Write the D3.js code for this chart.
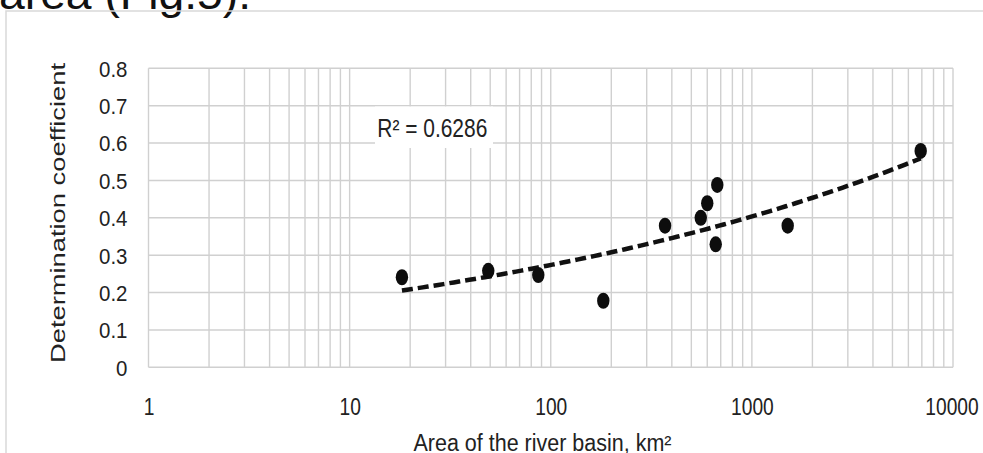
<!DOCTYPE html>
<html>
<head>
<meta charset="utf-8">
<script src="https://cdn.jsdelivr.net/npm/d3@7/dist/d3.min.js"></script>
<style>
  html, body { margin: 0; padding: 0; background: #fff; }
  svg { display: block; }
</style>
</head>
<body>
<svg id="chart" width="983" height="453"></svg>
<script>
// ---- data ----
const basinAreas = [18.2, 48.9, 86.7, 182.5, 370, 557, 600, 673, 661, 1507, 6908];
const determinationCoeffs = [0.241, 0.258, 0.247, 0.178, 0.379, 0.400, 0.439, 0.488, 0.329, 0.379, 0.579];
const xTickValues = [1, 10, 100, 1000, 10000];
const xTickLabels = ["1", "10", "100", "1000", "10000"];
const yTickValues = [0, 0.1, 0.2, 0.3, 0.4, 0.5, 0.6, 0.7, 0.8];
const yTickLabels = ["0", "0.1", "0.2", "0.3", "0.4", "0.5", "0.6", "0.7", "0.8"];
const rSquaredLabel = "R\u00B2 = 0.6286";
const xTitle = "Area of the river basin, km\u00B2";
const yTitle = "Determination coefficient";
const captionFragment = "area (Fig.5).";

// ---- layout ----
const W = 983, H = 453;
const plot = { left: 148.5, right: 953, top: 68.3, bottom: 367.3 };
const FONT = "'Liberation Sans', Arial, sans-serif";
const TEXT = "#222222";
const GRID = "#d0d0d0";

const svg = d3.select("#chart");
svg.append("rect").attr("width", W).attr("height", H).attr("fill", "#fff");

function condense(sel, factor) {
  sel.each(function () {
    const len = this.getComputedTextLength();
    d3.select(this).attr("textLength", len * factor).attr("lengthAdjust", "spacingAndGlyphs");
  });
}

// caption fragment cut off at top (as in the reference)
svg.append("text")
  .attr("x", -1).attr("y", 9)
  .attr("font-family", FONT).attr("font-size", 44).attr("fill", "#111")
  .attr("textLength", 252).attr("lengthAdjust", "spacingAndGlyphs")
  .text(captionFragment);

// outer chart frame (top and left visible)
svg.append("path")
  .attr("d", d3.line()([[6, H + 2], [6, 11], [W + 2, 11]]))
  .attr("fill", "none").attr("stroke", "#d9d9d9").attr("stroke-width", 1.5);

// ---- scales ----
const x = d3.scaleLog().domain([1, 10000]).range([plot.left, plot.right]);
const y = d3.scaleLinear().domain([0, 0.8]).range([plot.bottom, plot.top]);

// ---- gridlines ----
const grid = svg.append("g");
grid.selectAll("line.v").data(x.ticks()).join("line")
  .attr("class", "v")
  .attr("x1", d => x(d)).attr("x2", d => x(d))
  .attr("y1", plot.top).attr("y2", plot.bottom)
  .attr("stroke", GRID).attr("stroke-width", 1.4);
grid.selectAll("line.h").data(yTickValues).join("line")
  .attr("class", "h")
  .attr("x1", plot.left).attr("x2", plot.right)
  .attr("y1", d => y(d)).attr("y2", d => y(d))
  .attr("stroke", GRID).attr("stroke-width", 1.4);

// ---- axes (labels only) ----
const yAxis = svg.append("g")
  .attr("transform", `translate(${plot.left},0)`)
  .call(d3.axisLeft(y).tickValues(yTickValues)
    .tickFormat((d, i) => yTickLabels[i]).tickSize(0).tickPadding(21));
yAxis.select(".domain").remove();
yAxis.selectAll("text")
  .attr("font-family", FONT).attr("font-size", 22).attr("fill", TEXT)
  .attr("dy", "0.36em");
condense(yAxis.selectAll("text"), 0.93);

const xAxis = svg.append("g")
  .attr("transform", `translate(0,${plot.bottom})`)
  .call(d3.axisBottom(x).tickValues(xTickValues)
    .tickFormat((d, i) => xTickLabels[i]).tickSize(0).tickPadding(31));
xAxis.select(".domain").remove();
xAxis.selectAll("text")
  .attr("font-family", FONT).attr("font-size", 24).attr("fill", TEXT);
condense(xAxis.selectAll("text"), 0.8);
xAxis.selectAll(".tick").filter(d => d === 10000).select("text").attr("x", -1.5);

// axis titles
svg.append("text")
  .attr("x", 542.5).attr("y", 451)
  .attr("text-anchor", "middle")
  .attr("font-family", FONT).attr("font-size", 23).attr("fill", TEXT)
  .attr("textLength", 258).attr("lengthAdjust", "spacingAndGlyphs")
  .text(xTitle);

svg.append("text")
  .attr("transform", "translate(65,213) rotate(-90)")
  .attr("text-anchor", "middle")
  .attr("font-family", FONT).attr("font-size", 19.5).attr("fill", TEXT)
  .attr("textLength", 300).attr("lengthAdjust", "spacingAndGlyphs")
  .text(yTitle);

// ---- power trendline (least squares in log-log space) ----
const lx = basinAreas.map(Math.log), ly = determinationCoeffs.map(Math.log);
const mx = d3.mean(lx), my = d3.mean(ly);
const b = d3.sum(lx, (v, i) => (v - mx) * (ly[i] - my)) / d3.sum(lx, v => (v - mx) * (v - mx));
const a = Math.exp(my - b * mx);
const [xmin, xmax] = d3.extent(basinAreas);
const trendX = d3.range(0, 101).map(i => Math.exp(Math.log(xmin) + (Math.log(xmax) - Math.log(xmin)) * i / 100));
svg.append("path")
  .datum(trendX)
  .attr("d", d3.line().x(d => x(d)).y(d => y(a * Math.pow(d, b))))
  .attr("fill", "none").attr("stroke", "#111").attr("stroke-width", 4.5)
  .attr("stroke-dasharray", "11,5");

// ---- points ----
svg.append("g").selectAll("ellipse")
  .data(basinAreas.map((v, i) => [v, determinationCoeffs[i]]))
  .join("ellipse")
  .attr("cx", d => x(d[0])).attr("cy", d => y(d[1]))
  .attr("rx", 6.2).attr("ry", 8)
  .attr("fill", "#0d0d0d");

// ---- R² label ----
svg.append("rect")
  .attr("x", 375).attr("y", 106.5).attr("width", 118).attr("height", 41.5)
  .attr("fill", "#fff");
svg.append("text")
  .attr("x", 377.3).attr("y", 137.3)
  .attr("font-family", FONT).attr("font-size", 25).attr("fill", TEXT)
  .attr("textLength", 110).attr("lengthAdjust", "spacingAndGlyphs")
  .text(rSquaredLabel);
</script>
</body>
</html>
